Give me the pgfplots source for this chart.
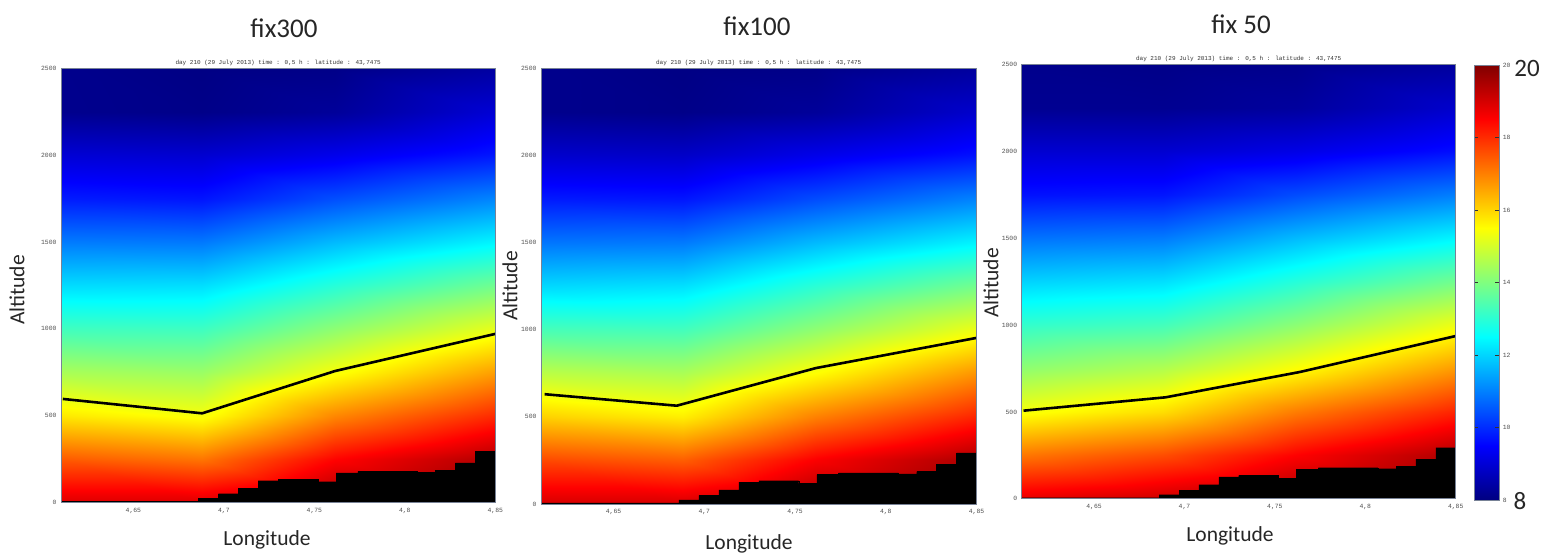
\documentclass[border=0pt]{standalone}
\usepackage{pgfplots}
\usepackage{pgfplotstable}
\usepackage{fontspec}
\pgfplotsset{compat=1.18}
\setmainfont{Carlito}
\newfontfamily\monof{Liberation Mono}
\definecolor{axln}{RGB}{120,130,150}
\definecolor{tkl}{RGB}{80,80,80}
\pgfplotstableread{
x y T
4.61 0 18.9
4.688 0 18.9
4.7615 0 19.6
4.85 0 20
4.61 250 17.43
4.688 250 17.12
4.7615 250 18.47
4.85 250 19.42
4.61 500 15.77
4.688 500 15.41
4.7615 500 16.92
4.85 500 18.02
4.61 750 14.48
4.688 750 14.31
4.7615 750 15.4
4.85 750 16.62
4.61 1000 13.26
4.688 1000 13.23
4.7615 1000 14.17
4.85 1000 15.22
4.61 1250 12.08
4.688 1250 12.11
4.7615 1250 12.94
4.85 1250 13.8
4.61 1500 10.95
4.688 1500 10.92
4.7615 1500 11.69
4.85 1500 12.39
4.61 1750 9.82
4.688 1750 9.74
4.7615 1750 10.43
4.85 1750 11.08
4.61 2000 9.0
4.688 2000 8.95
4.7615 2000 9.27
4.85 2000 9.76
4.61 2250 8.16
4.688 2250 8.1
4.7615 2250 8.3
4.85 2250 9.0
4.61 2500 8.15
4.688 2500 8.05
4.7615 2500 8.1
4.85 2500 8.4
}\fieldA
\pgfplotstableread{
x y T
4.61 0 19.0
4.688 0 19.0
4.7615 0 19.6
4.85 0 20
4.61 250 17.65
4.688 250 17.4
4.7615 250 18.55
4.85 250 19.5
4.61 500 16.05
4.688 500 15.7
4.7615 500 17.0
4.85 500 18.1
4.61 750 14.7
4.688 750 14.5
4.7615 750 15.5
4.85 750 16.75
4.61 1000 13.35
4.688 1000 13.3
4.7615 1000 14.2
4.85 1000 15.3
4.61 1250 12.05
4.688 1250 12.15
4.7615 1250 13.0
4.85 1250 13.85
4.61 1500 10.9
4.688 1500 10.95
4.7615 1500 11.7
4.85 1500 12.4
4.61 1750 9.8
4.688 1750 9.75
4.7615 1750 10.4
4.85 1750 11.05
4.61 2000 8.9
4.688 2000 8.85
4.7615 2000 9.25
4.85 2000 9.7
4.61 2250 8.15
4.688 2250 8.1
4.7615 2250 8.3
4.85 2250 8.9
4.61 2500 8.15
4.688 2500 8.05
4.7615 2500 8.1
4.85 2500 8.35
}\fieldB
\pgfplotstableread{
x y T
4.61 0 18.8
4.688 0 19.1
4.7615 0 19.6
4.85 0 20
4.61 250 17.1
4.688 250 17.6
4.7615 250 18.5
4.85 250 19.45
4.61 500 15.4
4.688 500 15.9
4.7615 500 17.05
4.85 500 18.1
4.61 750 14.2
4.688 750 14.6
4.7615 750 15.5
4.85 750 16.7
4.61 1000 13.1
4.688 1000 13.3
4.7615 1000 14.15
4.85 1000 15.3
4.61 1250 12.0
4.688 1250 12.15
4.7615 1250 12.95
4.85 1250 13.85
4.61 1500 10.85
4.688 1500 10.95
4.7615 1500 11.7
4.85 1500 12.4
4.61 1750 9.7
4.688 1750 9.75
4.7615 1750 10.4
4.85 1750 11.0
4.61 2000 8.95
4.688 2000 8.95
4.7615 2000 9.2
4.85 2000 9.65
4.61 2250 8.2
4.688 2250 8.2
4.7615 2250 8.35
4.85 2250 8.9
4.61 2500 8.15
4.688 2500 8.1
4.7615 2500 8.15
4.85 2500 8.35
}\fieldC
\pgfplotstableread{
x y
4.61 6
4.686 23
4.697 50
4.708 81
4.719 125
4.730 134
4.752 119
4.762 169
4.774 179
4.807 173
4.817 186
4.828 227
4.839 294
4.85 294
}\terrain
\pgfplotsset{
  panel/.style={
    scale only axis, width=434pt, height=433.6pt, anchor=north west,
    xmin=4.61, xmax=4.85, ymin=0, ymax=2500,
    colormap/jet, point meta min=8, point meta max=20,
    axis line style={axln, line width=0.7pt},
    major tick length=0pt,
    xtick={4.65,4.7,4.75,4.8,4.85},
    xticklabels={4{,}65,4{,}7,4{,}75,4{,}8,4{,}85},
    ytick={0,500,1000,1500,2000,2500},
    yticklabels={0,500,1000,1500,2000,2500},
    tick label style={font=\monof\fontsize{6.4}{7}\selectfont, text=tkl},
    xticklabel style={yshift=-2pt},
    yticklabel style={xshift=-1pt},
    title style={font=\monof\fontsize{6}{7}\selectfont, text=black!80, yshift=-7pt},
    title={day 210 (29 July 2013) time : 0,5 h : latitude : 43,7475},
    axis on top,
  },
  field/.style={surf, shader=interp, mesh/cols=4, point meta=\thisrow{T}},
  terr/.style={const plot, fill=black, draw=black, line width=0.2pt},
  cline/.style={black, line width=2.6pt, line join=round},
}
\begin{document}
\begin{tikzpicture}[x=1pt,y=1pt]
\path (0,0) rectangle (1543,-552);
\begin{axis}[panel, at={(61pt,-68.7pt)}, width=434.3pt, height=433.6pt]
  \addplot[field] table[x=x,y=y] {\fieldA};
  \addplot[terr] table[x=x,y=y] {\terrain} \closedcycle;
  \addplot[cline] coordinates {(4.611,596)(4.688,513)(4.7615,757)(4.85,971)};
\end{axis}
\begin{axis}[panel, at={(541pt,-68.3pt)}, width=435.5pt, height=435.7pt]
  \addplot[field] table[x=x,y=y] {\fieldB};
  \addplot[terr] table[x=x,y=y] {\terrain} \closedcycle;
  \addplot[cline] coordinates {(4.612,630)(4.6848,564)(4.7615,780)(4.85,953)};
\end{axis}
\begin{axis}[panel, at={(1021.7pt,-64.7pt)}, width=434pt, height=434pt]
  \addplot[field] table[x=x,y=y] {\fieldC};
  \addplot[terr] table[x=x,y=y] {\terrain} \closedcycle;
  \addplot[cline] coordinates {(4.611,507)(4.6896,584)(4.7639,730)(4.85,937)};
\end{axis}
\begin{axis}[scale only axis, width=25pt, height=435pt, anchor=north west,
    at={(1474.3pt,-65pt)}, xmin=0, xmax=1, ymin=8, ymax=20,
    colormap/jet, point meta min=8, point meta max=20,
    axis line style={axln, line width=0.7pt},
    xtick=\empty, ytick={8,10,12,14,16,18,20},
    yticklabels={8,10,12,14,16,18,20},
    yticklabel pos=right, ytick pos=both, tick align=inside,
    major tick length=4pt, tick style={black!80, line width=0.4pt},
    yticklabel style={font=\monof\fontsize{6.4}{7}\selectfont, text=tkl, xshift=0pt},
    axis on top]
  \addplot[surf, shader=interp, mesh/cols=2, point meta=explicit] coordinates {
    (0,8)[8] (1,8)[8]
    (0,9.5)[9.5] (1,9.5)[9.5]
    (0,12.5)[12.5] (1,12.5)[12.5]
    (0,15.5)[15.5] (1,15.5)[15.5]
    (0,18.5)[18.5] (1,18.5)[18.5]
    (0,20)[20] (1,20)[20]};
\end{axis}
\def\lab#1#2#3{\node[font=\fontsize{#3}{#3}\selectfont, text=black!85, inner sep=0pt] at (#1) {#2};}
\lab{284,-28}{fix300}{27}
\lab{757,-26}{fix100}{27}
\lab{1241,-24}{fix 50}{27}
\lab{267,-540}{Longitude}{21.5}
\lab{749,-544}{Longitude}{21.5}
\lab{1230,-536}{Longitude}{21.5}
\node[rotate=90, font=\fontsize{21.5}{21.5}\selectfont, text=black!85, inner sep=0pt] at (17,-290) {Altitude};
\node[rotate=90, font=\fontsize{21.5}{21.5}\selectfont, text=black!85, inner sep=0pt] at (510,-286) {Altitude};
\node[rotate=90, font=\fontsize{21.5}{21.5}\selectfont, text=black!85, inner sep=0pt] at (991,-283) {Altitude};
\lab{1527,-68}{20}{25}
\lab{1520,-501}{8}{25}
\end{tikzpicture}
\end{document}
